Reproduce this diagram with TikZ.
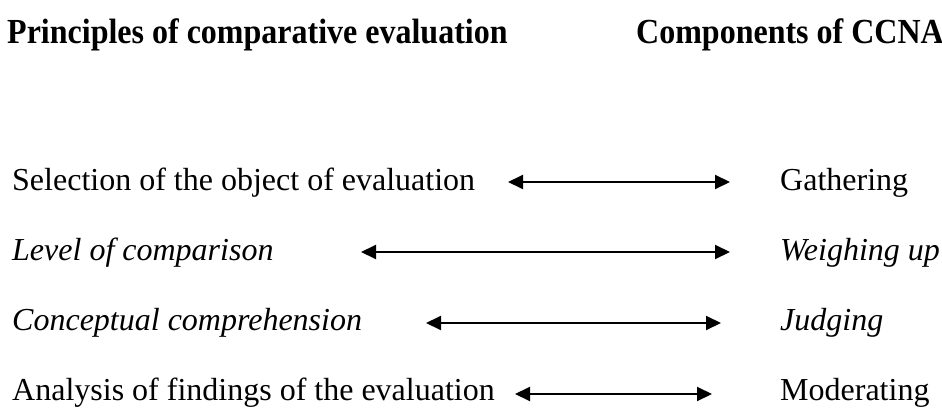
\documentclass[tikz,border=0pt]{standalone}
\usepackage{fontspec}
\setmainfont{Liberation Serif}
\usetikzlibrary{arrows.meta}
\begin{document}
\begin{tikzpicture}[x=1pt,y=-1pt,
  lbl/.style={anchor=base west,inner sep=0pt,font=\fontsize{32}{38}\selectfont},
  head/.style={lbl,font=\fontsize{32}{38}\selectfont\bfseries},
  link/.style={line width=2pt,{Triangle[length=15pt,width=14pt]}-{Triangle[length=15pt,width=14pt]}}]
\useasboundingbox (0,0) rectangle (942,409);
% column headings
\node[head] (h1) at (7,44) {\scalebox{1}[1.1]{Principles of comparative evaluation}};
\node[head] (h2) at (636,44) {\scalebox{1}[1.1]{Components of CCNA}};
% principles (left) and components (right)
\node[lbl] (p1) at (12,190) {Selection of the object of evaluation};
\node[lbl] (c1) at (780,190) {Gathering};
\node[lbl] (p2) at (12,260) {\itshape Level of comparison};
\node[lbl] (c2) at (780,260) {\itshape Weighing up};
\node[lbl] (p3) at (12,330) {\itshape Conceptual comprehension};
\node[lbl] (c3) at (780,330) {\itshape Judging};
\node[lbl] (p4) at (12,400) {Analysis of findings of the evaluation};
\node[lbl] (c4) at (780,400) {Moderating};
% arrow ends
\coordinate (a1) at (508,182); \coordinate (b1) at (730,182);
\coordinate (a2) at (361,252); \coordinate (b2) at (730,252);
\coordinate (a3) at (426,323); \coordinate (b3) at (721,323);
\coordinate (a4) at (515,394); \coordinate (b4) at (712,394);
\foreach \i in {1,...,4} \draw[link] (a\i) -- (b\i);
\end{tikzpicture}
\end{document}
